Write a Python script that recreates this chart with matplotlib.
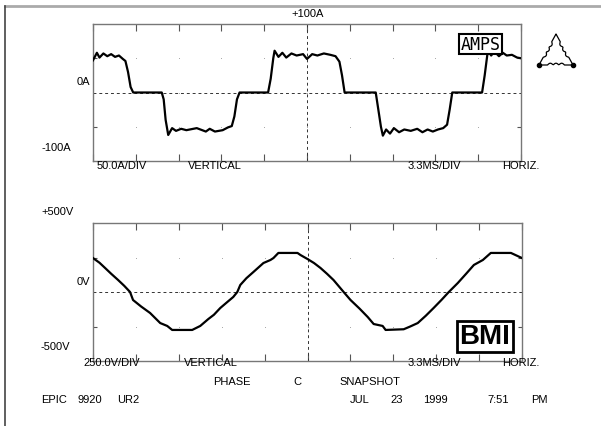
import numpy as np
import matplotlib.pyplot as plt

# time in ms, 3.3 ms per division, 10 divisions
t_amps = [0.0, 0.3, 0.5, 0.8, 1.1, 1.4, 1.7, 2.0, 2.3, 2.5, 2.7, 2.9, 3.1,
          5.3, 5.45, 5.6, 5.8, 6.1, 6.4, 6.8, 7.2, 8.0, 8.7, 9.0, 9.4, 10.0, 10.4, 10.7, 10.9, 11.1, 11.3,
          13.5, 13.7, 13.9, 14.0, 14.3, 14.6, 14.9, 15.3, 15.7, 16.2, 16.5, 16.9, 17.3, 17.8, 18.3, 18.7, 19.0, 19.2, 19.4,
          21.8, 22.0, 22.2, 22.35, 22.6, 22.9, 23.2, 23.6, 24.0, 24.5, 25.0, 25.4, 25.8, 26.2, 26.6, 27.0, 27.3, 27.5, 27.7,
          30.0, 30.2, 30.45, 30.7, 30.95, 31.3, 31.6, 31.9, 32.3, 32.7, 33.0]
amps = [47, 58, 51, 57, 53, 56, 52, 54, 49, 46, 30, 8, 0,
        0, -10, -40, -62, -52, -56, -53, -55, -52, -57, -53, -57, -55, -51, -49, -35, -10, 0,
        0, 20, 50, 61, 52, 58, 51, 57, 54, 56, 49, 56, 54, 57, 55, 53, 45, 25, 0,
        0, -25, -50, -63, -54, -60, -52, -58, -54, -56, -53, -58, -54, -57, -54, -52, -47, -25, 0,
        0, 25, 62, 54, 60, 53, 58, 54, 55, 51, 50]

t_volts = [0.0, 0.5, 0.93, 1.4, 1.93, 2.4, 2.85, 3.08, 3.7, 4.39, 5.17, 5.71, 6.09, 7.63, 8.25, 8.87,
           9.3, 9.79, 10.3, 10.79, 11.1, 11.33, 11.8, 12.34, 13.11, 13.65, 13.88, 14.26, 15.73, 15.96,
           16.5, 17.0, 17.5, 18.0, 18.5, 19.28, 19.81, 20.5, 21.13, 21.59, 22.28, 22.51, 23.9, 24.4,
           24.98, 25.6, 26.2, 26.8, 27.37, 28.06, 28.7, 29.3, 29.99, 30.6, 32.15, 33.0]
volts = [246, 212, 174, 132, 87, 45, 0, -58, -105, -152, -225, -246, -275, -275, -246, -196,
         -165, -116, -75, -36, 0, 51, 100, 145, 210, 232, 246, 283, 283, 268,
         239, 210, 174, 132, 87, 0, -58, -120, -181, -232, -246, -275, -270, -250,
         -225, -172, -116, -58, 0, 65, 132, 196, 232, 283, 283, 246]

W, H = 601, 427
fig = plt.figure(figsize=(W / 100, H / 100), dpi=100)
plt.rcParams['font.family'] = ['Liberation Sans', 'DejaVu Sans']


def fx(px):
    return px / W


def fy(py):
    return 1 - py / H


def txt(px, py, s, ha='center', **kw):
    fig.text(fx(px), fy(py), s, ha=ha, va='center', fontsize=8, **kw)


def scope(rect, t, y, ylim):
    ax = fig.add_axes(rect)
    ax.plot(t, y, color='black', lw=1.6, zorder=3)
    ax.set_xlim(0, 33)
    ax.set_ylim(-ylim, ylim)
    xdiv = np.linspace(0, 33, 11)
    ydiv = np.linspace(-ylim, ylim, 5)
    ax.set_xticks(xdiv)
    ax.set_yticks(ydiv[1:-1:2])
    ax.tick_params(direction='in', length=5, width=0.8, color='#555555',
                   top=True, right=True, labelbottom=False, labelleft=False)
    ax.tick_params(axis='y', length=3)
    for s in ax.spines.values():
        s.set_color('#777777')
        s.set_linewidth(1)
    gx, gy = np.meshgrid(xdiv[1:-1], ydiv[1:-1])
    ax.plot(gx.ravel(), gy.ravel(), ls='none', marker='s', ms=0.7, mew=0,
            color='#aaaaaa', zorder=1)
    ax.axhline(0, color='#333333', lw=0.7, ls=(0, (3, 3)), zorder=2)
    ax.axvline(16.5, color='#333333', lw=0.7, ls=(0, (3, 3)), zorder=2)
    return ax


ax1 = scope([fx(93), fy(162), 428 / W, 137 / H], t_amps, amps, 100)
ax2 = scope([fx(93), fy(362), 429 / W, 138 / H], t_volts, volts, 500)

# outer frame
fig.add_artist(plt.Line2D([fx(5), 1], [fy(7), fy(7)], color='#aaaaaa', lw=2))
fig.add_artist(plt.Line2D([fx(5), fx(5)], [fy(7), 0], color='#444444', lw=1.2))

# labels, current trace
txt(308, 14, '+100A')
txt(90, 82, '0A', ha='right')
txt(71, 148, '-100A', ha='right')
txt(97, 166, '50.0A/DIV', ha='left')
txt(215, 166, 'VERTICAL')
txt(434, 166, '3.3MS/DIV')
txt(521, 166, 'HORIZ.')

# labels, voltage trace
txt(74, 212, '+500V', ha='right')
txt(90, 282, '0V', ha='right')
txt(70, 347, '-500V', ha='right')
txt(112, 363, '250.0V/DIV')
txt(211, 363, 'VERTICAL')
txt(434, 363, '3.3MS/DIV')
txt(521, 363, 'HORIZ.')

txt(232, 382, 'PHASE')
txt(297, 382, 'C')
txt(370, 382, 'SNAPSHOT')
for px, s in [(54, 'EPIC'), (90, '9920'), (128, 'UR2'), (360, 'JUL'), (397, '23'),
              (435, '1999'), (498, '7:51'), (539, 'PM')]:
    txt(px, 400, s)

# AMPS badge
fig.text(fx(480.5), fy(45), 'AMPS', ha='center', va='center', fontsize=12,
         family='DejaVu Sans Mono', zorder=10,
         bbox=dict(boxstyle='square,pad=0.08', fc='white', ec='black', lw=1.5))

# BMI badge
fig.text(fx(485), fy(337.5), 'BMI', ha='center', va='center', fontsize=20,
         weight='bold', zorder=10,
         bbox=dict(boxstyle='square,pad=0.08', fc='white', ec='black', lw=2))

# delta logo: triangle with wavy sides
corners = np.array([[539, 66], [556, 35], [573, 66]], dtype=float)
path = []
for i in range(3):
    a, b = corners[i], corners[(i + 1) % 3]
    d = b - a
    n = np.array([-d[1], d[0]]) / np.hypot(*d)
    for k in range(41):
        u = k / 40
        bump = 1.8 * abs(np.sin((u - 0.25) * np.pi * 6)) if 0.25 < u < 0.75 else 0
        path.append(a + d * u + n * bump)
path = np.array(path)
fig.add_artist(plt.Line2D(fx(path[:, 0]), fy(path[:, 1]), color='black', lw=0.9))
fig.add_artist(plt.Line2D(fx(corners[[0, 2], 0]), fy(corners[[0, 2], 1]), ls='none',
                          marker='o', ms=3, color='black'))

fig.savefig('out.png', dpi=100)
